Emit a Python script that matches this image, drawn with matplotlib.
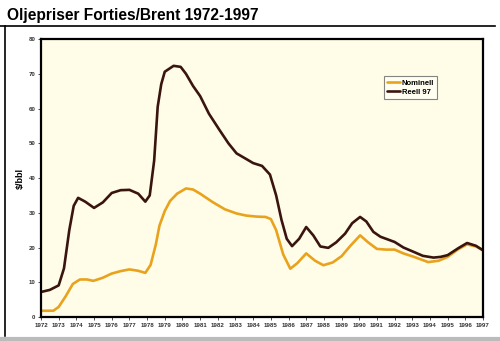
"""
plot.py
-------
Oljepriser Forties/Brent 1972-1997, nominal vs real (1997 dollars).
"""

import matplotlib
matplotlib.use("Agg")
import matplotlib.pyplot as plt
from matplotlib.lines import Line2D

# -- Data -------------------------------------------------------------------
reell_years = [
    1972.0, 1972.5, 1973.0, 1973.3, 1973.6, 1973.85, 1974.1, 1974.5, 1975.0,
    1975.5, 1976.0, 1976.5, 1977.0, 1977.5, 1977.9, 1978.15, 1978.4, 1978.6,
    1978.8, 1979.0, 1979.5, 1979.9, 1980.2, 1980.6, 1981.0, 1981.5, 1982.1,
    1982.6, 1983.06, 1983.6, 1984.0, 1984.5, 1984.95, 1985.3, 1985.6, 1985.9,
    1986.2, 1986.6, 1987.0, 1987.4, 1987.8, 1988.25, 1988.7, 1989.2, 1989.6,
    1990.05, 1990.4, 1990.8, 1991.2, 1992.0, 1992.5, 1993.1, 1993.6, 1994.2,
    1994.6, 1995.0, 1995.6, 1996.1, 1996.6, 1997.0,
]
reell_values = [
    7.2, 7.8, 9.1, 14.0, 25.0, 32.0, 34.3, 33.2, 31.4,
    33.0, 35.7, 36.5, 36.6, 35.5, 33.2, 35.0, 45.0, 60.5,
    67.0, 70.6, 72.3, 72.0, 70.0, 66.5, 63.6, 58.5, 53.8,
    50.0, 47.1, 45.5, 44.3, 43.5, 41.0, 35.0, 28.0, 22.5,
    20.4, 22.5, 25.9, 23.5, 20.3, 19.9, 21.5, 24.0, 27.0,
    28.8, 27.5, 24.5, 23.1, 21.6, 20.0, 18.7, 17.6, 17.1,
    17.3, 17.8, 19.8, 21.3, 20.5, 19.2,
]

nominell_years = [
    1972.0, 1972.7, 1973.0, 1973.4, 1973.8, 1974.2, 1974.6, 1974.96, 1975.5,
    1976.0, 1976.5, 1977.0, 1977.5, 1977.9, 1978.2, 1978.5, 1978.7, 1979.0,
    1979.3, 1979.7, 1980.2, 1980.6, 1981.0, 1981.7, 1982.4, 1983.06, 1983.6,
    1984.2, 1984.7, 1985.0, 1985.3, 1985.7, 1986.1, 1986.5, 1987.0, 1987.5,
    1987.97, 1988.5, 1989.0, 1989.5, 1990.05, 1990.5, 1991.0, 1991.5, 1992.0,
    1992.5, 1993.1, 1993.9, 1994.5, 1995.0, 1995.6, 1996.1, 1996.6, 1997.0,
]
nominell_values = [
    1.8, 1.8, 2.9, 6.0, 9.5, 10.8, 10.8, 10.4, 11.3,
    12.5, 13.2, 13.7, 13.3, 12.7, 15.0, 21.0, 26.3, 30.5,
    33.4, 35.5, 37.0, 36.7, 35.5, 33.1, 31.0, 29.8, 29.2,
    28.9, 28.8, 28.2, 25.0, 18.0, 13.9, 15.5, 18.3, 16.2,
    14.9, 15.7, 17.5, 20.5, 23.5, 21.5, 19.6, 19.4, 19.4,
    18.3, 17.3, 15.8, 16.2, 17.3, 19.5, 20.9, 20.3, 19.2,
]

x_ticks = list(range(1972, 1998))
y_ticks = list(range(0, 81, 10))

NOMINELL_COLOR = "#E9A21C"
REELL_COLOR = "#3A1510"
BG_COLOR = "#FFFDE8"

plt.rcParams["font.family"] = ["Liberation Sans", "DejaVu Sans"]

fig = plt.figure(figsize=(5.0, 3.41), dpi=100)
ax = fig.add_axes([0.082, 0.0704, 0.884, 0.815])
ax.set_facecolor(BG_COLOR)

ax.plot(nominell_years, nominell_values, color=NOMINELL_COLOR, lw=1.9,
        solid_joinstyle="round", solid_capstyle="round", label="Nominell")
ax.plot(reell_years, reell_values, color=REELL_COLOR, lw=1.9,
        solid_joinstyle="round", solid_capstyle="round", label="Reell 97")

ax.set_xlim(1972, 1997)
ax.set_ylim(0, 80)
ax.set_xticks(x_ticks)
ax.set_xticklabels([str(y) for y in x_ticks], fontsize=4.4,
                   fontweight="bold", color="#333333")
ax.set_yticks(y_ticks)
ax.set_yticklabels([str(v) for v in y_ticks], fontsize=4.4,
                   fontweight="bold", color="#333333")
ax.tick_params(axis="both", direction="out", length=2.5, width=0.6,
               pad=1.5, color="#333333")

for spine in ax.spines.values():
    spine.set_linewidth(1.6)
    spine.set_color("black")

ax.set_ylabel("\\$/bbl", fontsize=6.5, fontweight="bold", labelpad=3)

leg = ax.legend(loc="upper left", bbox_to_anchor=(0.768, 0.88),
                prop={"weight": "bold", "size": 5.5},
                frameon=True, fancybox=False, handlelength=1.6,
                handletextpad=0.3, borderpad=0.4, labelspacing=0.25)
leg.get_frame().set_edgecolor("#666666")
leg.get_frame().set_linewidth(0.8)
leg.get_frame().set_facecolor("#FFFFF4")

# title and outer frame
fig.text(0.014, 0.955, "Oljepriser Forties/Brent 1972-1997", fontsize=11.2,
         fontweight="bold", ha="left", va="center")
fig.add_artist(Line2D([0.0, 0.99], [0.924, 0.924], color="black", lw=1.2,
                      transform=fig.transFigure))
fig.add_artist(Line2D([0.01, 0.01], [0.924, 0.015], color="black", lw=1.2,
                      transform=fig.transFigure))
fig.add_artist(Line2D([0.0, 1.0], [0.006, 0.006], color="#BBBBBB", lw=3,
                      transform=fig.transFigure))

fig.savefig("out.png", dpi=100)
plt.close()
